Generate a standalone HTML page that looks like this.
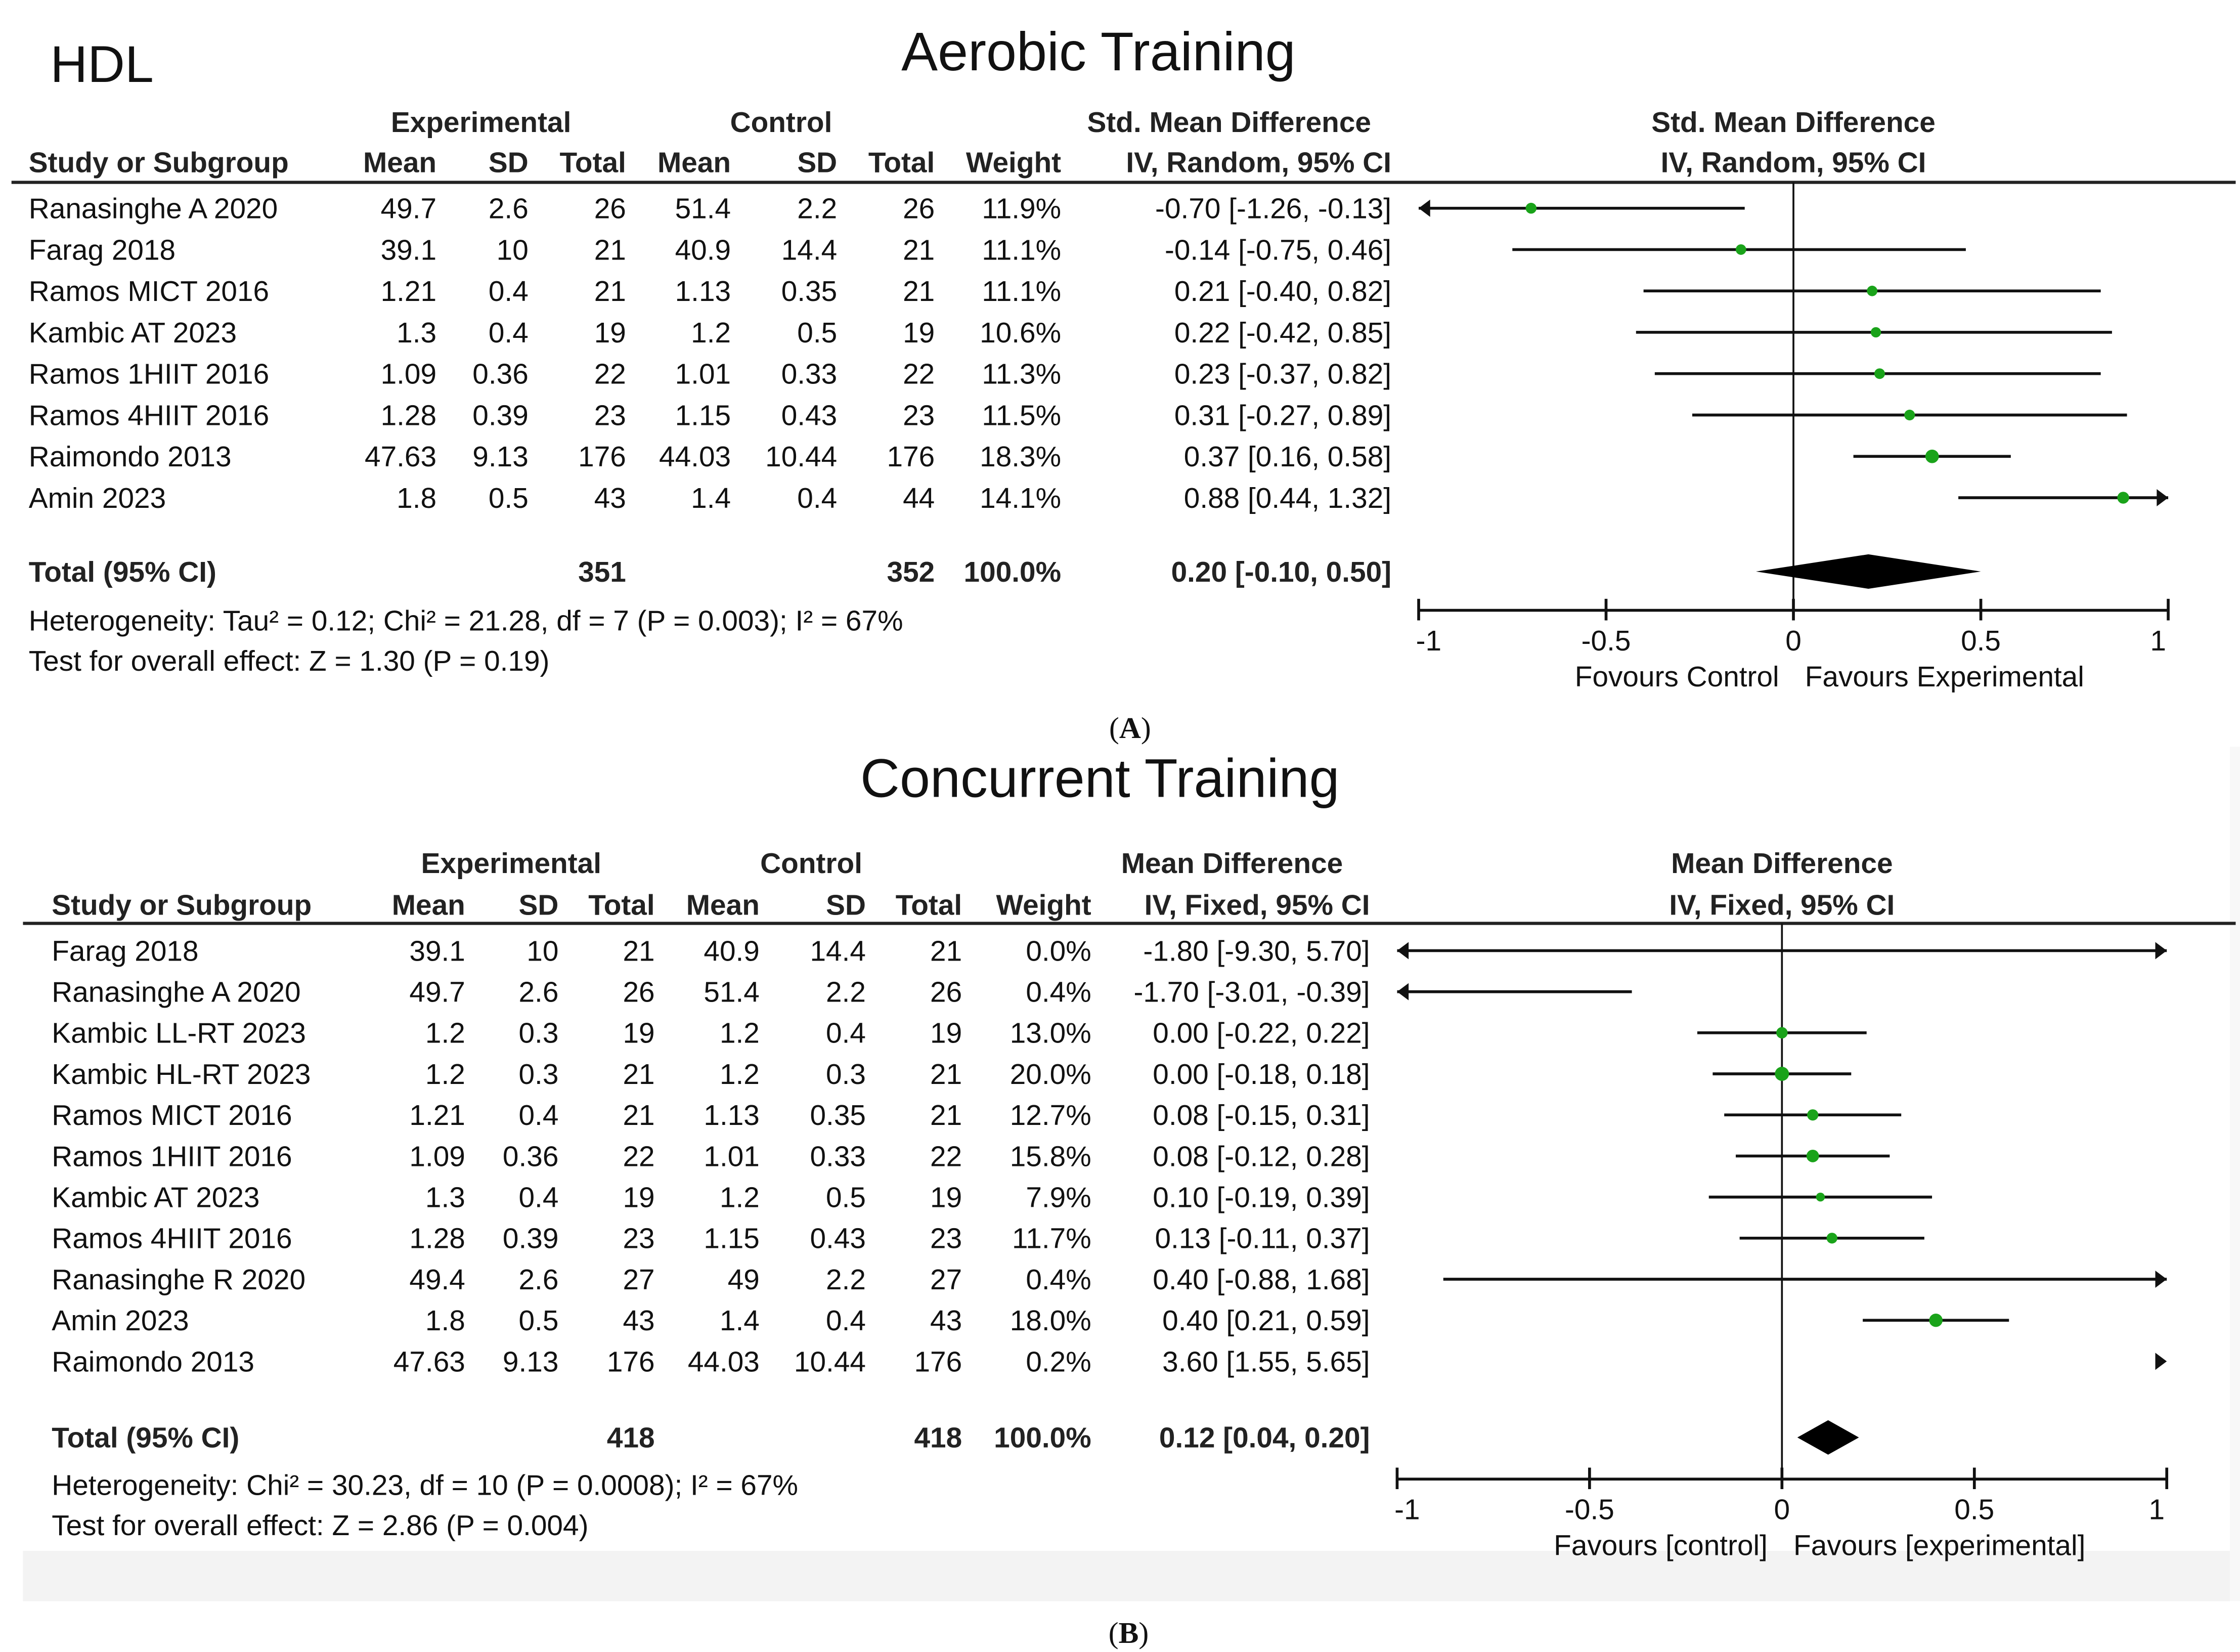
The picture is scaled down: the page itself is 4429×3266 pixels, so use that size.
<!DOCTYPE html>
<html><head><meta charset="utf-8">
<style>
html,body{margin:0;padding:0;background:#fff;}
svg{display:block;}
text{font-family:"Liberation Sans",Arial,sans-serif;fill:#111;}
.h{font-weight:bold;fill:#222;}
</style></head>
<body>
<svg id="fig" xmlns="http://www.w3.org/2000/svg" width="4429" height="3266" viewBox="0 0 1560 1150.4" preserveAspectRatio="none">
<rect x="0" y="0" width="1560" height="1150.4" fill="#fff"/>
<rect x="16" y="1080" width="1537" height="35" fill="#f3f3f3"/>
<rect x="1553" y="520" width="7" height="595" fill="#f8f8f8"/>
<text x="35" y="57" font-size="36">HDL</text>
<text x="765" y="49" font-size="38" text-anchor="middle">Aerobic Training</text>
<text x="787" y="514" font-size="21" text-anchor="middle" style="font-family:'Liberation Serif',serif">(<tspan font-weight="bold">A</tspan>)</text>
<text x="766" y="555" font-size="38" text-anchor="middle">Concurrent Training</text>
<text x="786" y="1144" font-size="21" text-anchor="middle" style="font-family:'Liberation Serif',serif">(<tspan font-weight="bold">B</tspan>)</text>
<g id="pa"></g>
<g id="pb"></g>
</svg>
<script>
// ---- Panel A data (Aerobic) ----
const aStudies = ["Ranasinghe A 2020","Farag 2018","Ramos MICT 2016","Kambic AT 2023","Ramos 1HIIT 2016","Ramos 4HIIT 2016","Raimondo 2013","Amin 2023"];
const aExpMean = ["49.7","39.1","1.21","1.3","1.09","1.28","47.63","1.8"];
const aExpSD = ["2.6","10","0.4","0.4","0.36","0.39","9.13","0.5"];
const aExpN = ["26","21","21","19","22","23","176","43"];
const aCtlMean = ["51.4","40.9","1.13","1.2","1.01","1.15","44.03","1.4"];
const aCtlSD = ["2.2","14.4","0.35","0.5","0.33","0.43","10.44","0.4"];
const aCtlN = ["26","21","21","19","22","23","176","44"];
const aWeight = [11.9,11.1,11.1,10.6,11.3,11.5,18.3,14.1];
const aEst = [-0.70,-0.14,0.21,0.22,0.23,0.31,0.37,0.88];
const aLo = [-1.26,-0.75,-0.40,-0.42,-0.37,-0.27,0.16,0.44];
const aHi = [-0.13,0.46,0.82,0.85,0.82,0.89,0.58,1.32];
const aTotal = {est:0.20, lo:-0.10, hi:0.50, nE:"351", nC:"352"};
// ---- Panel B data (Concurrent) ----
const bStudies = ["Farag 2018","Ranasinghe A 2020","Kambic LL-RT 2023","Kambic HL-RT 2023","Ramos MICT 2016","Ramos 1HIIT 2016","Kambic AT 2023","Ramos 4HIIT 2016","Ranasinghe R 2020","Amin 2023","Raimondo 2013"];
const bExpMean = ["39.1","49.7","1.2","1.2","1.21","1.09","1.3","1.28","49.4","1.8","47.63"];
const bExpSD = ["10","2.6","0.3","0.3","0.4","0.36","0.4","0.39","2.6","0.5","9.13"];
const bExpN = ["21","26","19","21","21","22","19","23","27","43","176"];
const bCtlMean = ["40.9","51.4","1.2","1.2","1.13","1.01","1.2","1.15","49","1.4","44.03"];
const bCtlSD = ["14.4","2.2","0.4","0.3","0.35","0.33","0.5","0.43","2.2","0.4","10.44"];
const bCtlN = ["21","26","19","21","21","22","19","23","27","43","176"];
const bWeight = [0.0,0.4,13.0,20.0,12.7,15.8,7.9,11.7,0.4,18.0,0.2];
const bEst = [-1.80,-1.70,0.00,0.00,0.08,0.08,0.10,0.13,0.40,0.40,3.60];
const bLo = [-9.30,-3.01,-0.22,-0.18,-0.15,-0.12,-0.19,-0.11,-0.88,0.21,1.55];
const bHi = [5.70,-0.39,0.22,0.18,0.31,0.28,0.39,0.37,1.68,0.59,5.65];
const bTotal = {est:0.12, lo:0.04, hi:0.20, nE:"418", nC:"418"};
const axisTicks = [-1,-0.5,0,0.5,1];
const tickLabels = ["-1","-0.5","0","0.5","1"];

const NS="http://www.w3.org/2000/svg";
function mk(parent,tag,attrs,txt){const e=document.createElementNS(NS,tag);for(const k in attrs)e.setAttribute(k,attrs[k]);if(txt!==undefined)e.textContent=txt;parent.appendChild(e);return e;}
function fmt(v){return (v<0?"-":"")+Math.abs(v).toFixed(2);}
function ci(e,l,h){return fmt(e)+" ["+fmt(l)+", "+fmt(h)+"]";}

function panel(g,cfg,d){
  const fs=20;
  const ys=cfg.y0, step=cfg.step;
  const xs=v=>cfg.x0+(v+1)/2*(cfg.x1-cfg.x0);
  let t;
  t=mk(g,'text',{x:cfg.colExpC,y:cfg.hy1,'font-size':fs,'text-anchor':'middle',class:'h'},'Experimental');
  
  t=mk(g,'text',{x:cfg.colCtlC,y:cfg.hy1,'font-size':fs,'text-anchor':'middle',class:'h'},'Control');
  
  t=mk(g,'text',{x:cfg.effC,y:cfg.hy1,'font-size':fs,'text-anchor':'middle',class:'h'},cfg.effName);
  
  t=mk(g,'text',{x:(cfg.x0+cfg.x1)/2,y:cfg.hy1,'font-size':fs,'text-anchor':'middle',class:'h'},cfg.effName);
  
  const hdr=[["Study or Subgroup",cfg.cols[0],'start'],["Mean",cfg.cols[1],'end'],["SD",cfg.cols[2],'end'],["Total",cfg.cols[3],'end'],["Mean",cfg.cols[4],'end'],["SD",cfg.cols[5],'end'],["Total",cfg.cols[6],'end'],["Weight",cfg.cols[7],'end'],[cfg.method,cfg.cols[8],'end']];
  hdr.forEach(h=>{const e=mk(g,'text',{x:h[1],y:cfg.hy2,'font-size':fs,'text-anchor':h[2],class:'h'},h[0]);
    });
  t=mk(g,'text',{x:(cfg.x0+cfg.x1)/2,y:cfg.hy2,'font-size':fs,'text-anchor':'middle',class:'h'},cfg.method);
  
  let l=mk(g,'line',{x1:cfg.lineX,x2:1557,y1:cfg.lineY,y2:cfg.lineY,stroke:'#222','stroke-width':2.2});
  
  l=mk(g,'line',{x1:xs(0),x2:xs(0),y1:cfg.lineY,y2:cfg.axisY,stroke:'#111','stroke-width':1.3});
  
  d.studies.forEach((s,i)=>{
    const y=ys+i*step;
    const vals=[s,d.em[i],d.es[i],d.en[i],d.cm[i],d.cs[i],d.cn[i],d.w[i].toFixed(1)+"%",ci(d.est[i],d.lo[i],d.hi[i])];
    vals.forEach((v,j)=>{const e=mk(g,'text',{x:cfg.cols[j],y:y+7,'font-size':fs,'text-anchor':j===0?'start':'end'},v);
      });
    const lo=Math.max(d.lo[i],-1), hi=Math.min(d.hi[i],1);
    if(lo<hi){const c=mk(g,'line',{x1:xs(lo),x2:xs(hi),y1:y,y2:y,stroke:'#111','stroke-width':2});
      }
    if(d.lo[i]<-1){const a=mk(g,'polygon',{points:`${xs(-1)},${y} ${xs(-1)+8},${y-6} ${xs(-1)+8},${y+6}`,fill:'#111'});
      }
    if(d.hi[i]>1){const a=mk(g,'polygon',{points:`${xs(1)},${y} ${xs(1)-8},${y-6} ${xs(1)-8},${y+6}`,fill:'#111'});
      }
    if(d.est[i]>=-1&&d.est[i]<=1&&d.w[i]>0.5){
      const r=cfg.rk*Math.sqrt(d.w[i]);
      const p=mk(g,'circle',{cx:xs(d.est[i]),cy:y,r:r,fill:'#1aa31a'});
      }
  });
  const ty=cfg.totalY;
  const tv=[["Total (95% CI)",cfg.cols[0],'start'],[d.tot.nE,cfg.cols[3],'end'],[d.tot.nC,cfg.cols[6],'end'],["100.0%",cfg.cols[7],'end'],[ci(d.tot.est,d.tot.lo,d.tot.hi),cfg.cols[8],'end']];
  tv.forEach(v=>{const e=mk(g,'text',{x:v[1],y:ty+7,'font-size':fs,'text-anchor':v[2],class:'h'},v[0]);
    });
  const dm=mk(g,'polygon',{points:`${xs(d.tot.lo)},${ty} ${xs(d.tot.est)},${ty-cfg.dh} ${xs(d.tot.hi)},${ty} ${xs(d.tot.est)},${ty+cfg.dh}`,fill:'#000'});
  
  t=mk(g,'text',{x:cfg.cols[0],y:cfg.hetY+7,'font-size':fs},cfg.het);
  
  t=mk(g,'text',{x:cfg.cols[0],y:cfg.hetY+35,'font-size':fs},cfg.test);
  
  l=mk(g,'line',{x1:xs(-1),x2:xs(1),y1:cfg.axisY,y2:cfg.axisY,stroke:'#111','stroke-width':2});
  
  axisTicks.forEach((v,i)=>{
    const tk=mk(g,'line',{x1:xs(v),x2:xs(v),y1:cfg.axisY-8,y2:cfg.axisY+7,stroke:'#111','stroke-width':2});
    
    const tl=mk(g,'text',{x:xs(v)+(i===0?7:i===4?-7:0),y:cfg.axisY+28,'font-size':fs,'text-anchor':'middle'},tickLabels[i]);
    
  });
  t=mk(g,'text',{x:xs(0)-10,y:cfg.axisY+53,'font-size':fs,'text-anchor':'end'},cfg.favL);
  
  t=mk(g,'text',{x:xs(0)+8,y:cfg.axisY+53,'font-size':fs,'text-anchor':'start'},cfg.favR);
  
}

panel(document.getElementById('pa'),{
  x0:988,x1:1510,y0:145,step:28.8,hy1:92,hy2:120,lineX:8,lineY:127,axisY:425,totalY:398,hetY:432,dh:12,rk:1.1,
  cols:[20,304,368,436,509,583,651,739,969],colExpC:335,colCtlC:544,effC:856,
  effName:"Std. Mean Difference",method:"IV, Random, 95% CI",
  het:"Heterogeneity: Tau² = 0.12; Chi² = 21.28, df = 7 (P = 0.003); I² = 67%",
  test:"Test for overall effect: Z = 1.30 (P = 0.19)",favL:"Fovours Control",favR:"Favours Experimental"
},{studies:aStudies,em:aExpMean,es:aExpSD,en:aExpN,cm:aCtlMean,cs:aCtlSD,cn:aCtlN,w:aWeight,est:aEst,lo:aLo,hi:aHi,tot:aTotal});

panel(document.getElementById('pb'),{
  x0:973,x1:1509,y0:662,step:28.6,hy1:608,hy2:637,lineX:16,lineY:643,axisY:1030,totalY:1001,hetY:1034,dh:12,rk:1.1,
  cols:[36,324,389,456,529,603,670,760,954],colExpC:356,colCtlC:565,effC:858,
  effName:"Mean Difference",method:"IV, Fixed, 95% CI",
  het:"Heterogeneity: Chi² = 30.23, df = 10 (P = 0.0008); I² = 67%",
  test:"Test for overall effect: Z = 2.86 (P = 0.004)",favL:"Favours [control]",favR:"Favours [experimental]"
},{studies:bStudies,em:bExpMean,es:bExpSD,en:bExpN,cm:bCtlMean,cs:bCtlSD,cn:bCtlN,w:bWeight,est:bEst,lo:bLo,hi:bHi,tot:bTotal});
</script>
</body></html>
